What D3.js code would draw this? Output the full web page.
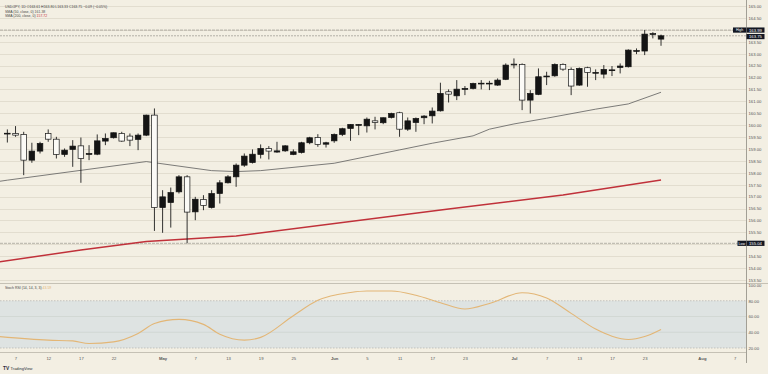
<!DOCTYPE html>
<html>
<head>
<meta charset="utf-8">
<script src="https://cdn.jsdelivr.net/npm/d3@7"></script>
<style>
  body { margin: 0; background: #f3efe3; }
  svg { display: block; font-family: "Liberation Sans", Arial, sans-serif; }
</style>
</head>
<body>
<div id="chart"></div>
<script>
// daily bars
const opens  = [159.64,159.65,159.61,158.53,158.91,159.65,159.41,158.77,158.98,159.13,
                158.77,158.78,159.33,159.47,159.65,159.54,159.40,159.58,160.42,156.54,
                156.75,157.20,157.83,156.36,156.88,156.54,157.13,157.58,157.83,158.32,
                158.43,158.77,159.02,158.87,158.92,158.77,158.85,159.26,159.48,159.20,
                159.34,159.61,159.86,159.99,159.97,160.18,160.10,160.32,160.52,159.83,
                160.11,160.31,160.39,160.60,161.40,161.23,161.50,161.54,161.75,161.75,
                161.68,161.92,162.56,162.55,161.05,161.29,162.05,162.07,162.55,162.34,
                161.68,162.41,162.20,162.14,162.31,162.42,162.45,163.12,163.11,163.82,
                163.61];
const highs  = [159.82,159.96,159.72,159.26,159.30,159.82,159.51,159.02,159.37,159.48,
                159.16,159.61,159.65,159.69,159.72,159.65,159.65,160.44,160.70,157.27,
                157.38,157.90,157.90,156.99,157.06,157.27,157.69,157.90,158.39,158.81,
                158.98,159.19,159.12,159.30,159.16,158.98,159.30,159.51,159.62,159.30,
                159.65,159.89,160.04,160.04,160.32,160.35,160.32,160.52,160.56,160.32,
                160.32,160.42,160.74,161.78,161.50,161.89,161.64,161.78,161.89,161.86,
                161.96,162.59,162.80,162.59,161.47,162.38,162.24,162.59,162.59,162.42,
                162.42,162.45,162.34,162.52,162.48,162.59,163.18,163.22,163.99,163.90,
                163.80];
const lows   = [159.27,159.51,157.90,158.42,158.81,159.30,158.60,158.67,158.25,157.58,
                158.53,158.74,159.16,159.44,159.30,159.12,158.95,159.54,155.56,155.48,
                155.70,157.13,155.04,156.01,156.43,156.50,156.71,157.55,157.41,158.25,
                158.39,158.60,158.56,158.84,158.88,158.74,158.81,159.20,159.09,159.06,
                159.26,159.54,159.34,159.58,159.69,159.82,160.04,160.28,159.51,159.76,
                159.72,160.04,160.07,160.57,160.95,161.05,161.26,161.50,161.50,161.47,
                161.65,161.89,162.38,160.63,160.49,161.26,161.68,162.03,162.28,161.26,
                161.65,161.61,161.89,161.96,162.06,162.17,162.42,162.98,162.94,163.64,
                163.33];
const closes = [159.66,159.58,158.53,158.91,159.23,159.41,158.77,158.95,159.12,158.60,
                158.81,159.34,159.44,159.68,159.33,159.37,159.58,160.42,156.54,156.99,
                157.17,157.83,156.35,156.89,156.63,157.13,157.58,157.83,158.32,158.70,
                158.78,159.02,158.91,158.92,159.13,158.88,159.26,159.47,159.19,159.26,
                159.61,159.85,160.03,160.03,160.25,160.11,160.31,160.49,159.83,160.18,
                160.28,160.38,160.59,161.33,161.30,161.51,161.54,161.75,161.76,161.76,
                161.89,162.52,162.53,161.05,161.33,162.03,162.06,162.55,162.35,161.64,
                162.38,162.21,162.21,162.34,162.32,162.48,163.15,163.13,163.82,163.84,
                163.75];

// moving averages, [bar, value] vertices
const sma50  = [[-1,157.64],[0,157.69],[17,158.47],[25,158.09],[28,158.05],[31,158.09],
                [40,158.40],[48,158.96],[52,159.24],[57,159.55],[59,159.83],[62,160.05],
                [66,160.29],[72,160.67],[76,160.89],[80,161.38]];
const sma200 = [[-1,154.26],[9,154.76],[17,155.12],[28,155.35],[54,156.48],[68,157.07],[80,157.70]];

// stoch rsi %K
const stochK = [[-1,34.5],[5,30],[8,29],[10,25.7],[13,27.8],[16,38.5],[18,51],[21,56.3],
                [24,50],[26,37.5],[29,30],[31,33.5],[35,61],[38,80.5],[42,90.5],[44,92.4],
                [47,92.4],[50,87],[53,77.5],[56,69.5],[59,76.6],[63,90.2],[66,83.5],
                [69,64],[72,44],[74,35],[76,30.8],[78,34.5],[80,43.6]];

const timeTickBars   = [1,5,9,13,19,23,27,31,35,40,44,48,52,56,62,66,70,74,78,85,89];
const timeTickLabels = ["7","12","17","22","May","7","13","19","25","Jun","5","11","17","23",
                        "Jul","7","13","17","23","Aug","7"];
const monthLabels = ["May","Jun","Jul","Aug"];

const priceTicks = d3.range(153.5, 165.01, 0.5);
const stochTicks = [100, 80, 60, 40, 20];

const highValue = 163.99, lowValue = 155.04, lastValue = 163.75;

class CandleChart {
    constructor(_config) {
        this.config = {
            parentElement: _config.parentElement,
            containerWidth: 768,
            containerHeight: 374,
            plotRight: 746,
            mainTop: 6, mainBottom: 280, paneSplit: 283,
            stochTop: 285, stochBottom: 352
        };
        this.initVis();
    }

    initVis() {
        let vis = this;
        const c = vis.config;

        vis.svg = c.parentElement.append('svg')
            .attr('width', c.containerWidth)
            .attr('height', c.containerHeight);

        vis.svg.append('rect')
            .attr('width', c.containerWidth).attr('height', c.containerHeight)
            .attr('fill', '#f3efe3');

        vis.x = d3.scaleLinear().domain([-0.9, 90.4]).range([0, c.plotRight]);
        vis.y = d3.scaleLinear().domain([153.5, 165]).range([c.mainBottom, c.mainTop]);
        vis.ys = d3.scaleLinear().domain([0, 100]).range([363.75, 285]);

        const defs = vis.svg.append('defs');
        defs.append('clipPath').attr('id', 'clip-main').append('rect')
            .attr('x', 0).attr('y', 0).attr('width', c.plotRight).attr('height', c.paneSplit);
        defs.append('clipPath').attr('id', 'clip-stoch').append('rect')
            .attr('x', 0).attr('y', c.paneSplit + 1).attr('width', c.plotRight)
            .attr('height', c.stochBottom - c.paneSplit - 1);

        vis.renderVis();
    }

    renderVis() {
        let vis = this;
        const c = vis.config;
        const x = vis.x, y = vis.y, ys = vis.ys;
        const axisFont = 4.2;

        // ---- main pane grid
        vis.svg.append('g').selectAll('line')
            .data(priceTicks).enter().append('line')
            .attr('x1', 0).attr('x2', c.plotRight)
            .attr('y1', d => Math.round(y(d)) + 0.5).attr('y2', d => Math.round(y(d)) + 0.5)
            .attr('stroke', '#ddd8ca').attr('stroke-width', 0.8);

        const main = vis.svg.append('g').attr('clip-path', 'url(#clip-main)');

        // high / low / last lines
        main.selectAll('.hl')
            .data([highValue, lastValue, lowValue]).enter().append('line')
            .attr('class', 'hl')
            .attr('x1', 0).attr('x2', c.plotRight)
            .attr('y1', d => y(d)).attr('y2', d => y(d))
            .attr('stroke', '#8a877f').attr('stroke-width', 0.6)
            .attr('stroke-dasharray', (d, i) => i === 1 ? '2,1' : '3,1');

        const line = d3.line().x(d => x(d[0])).y(d => y(d[1]));
        main.append('path').datum(sma50)
            .attr('d', line).attr('fill', 'none')
            .attr('stroke', '#5d5d5d').attr('stroke-width', 0.8);
        main.append('path').datum(sma200)
            .attr('d', line).attr('fill', 'none')
            .attr('stroke', '#c0313a').attr('stroke-width', 1.5);

        // candles
        const bars = opens.map((o, i) => ({ i, o, h: highs[i], l: lows[i], c: closes[i] }));
        const bw = 5.6;
        main.selectAll('.wick')
            .data(bars).enter().append('line')
            .attr('class', 'wick')
            .attr('x1', d => x(d.i)).attr('x2', d => x(d.i))
            .attr('y1', d => y(d.h)).attr('y2', d => y(d.l))
            .attr('stroke', '#1c1c1c').attr('stroke-width', 0.9);
        main.selectAll('.body')
            .data(bars).enter().append('rect')
            .attr('class', 'body')
            .attr('x', d => x(d.i) - bw / 2)
            .attr('y', d => y(Math.max(d.o, d.c)))
            .attr('width', bw)
            .attr('height', d => Math.max(0.8, y(Math.min(d.o, d.c)) - y(Math.max(d.o, d.c))))
            .attr('fill', d => d.c >= d.o ? '#141414' : '#fbfaf6')
            .attr('stroke', '#141414').attr('stroke-width', 0.7);

        // ---- stoch pane
        const stoch = vis.svg.append('g').attr('clip-path', 'url(#clip-stoch)');
        stoch.append('rect')
            .attr('x', 0).attr('width', c.plotRight)
            .attr('y', ys(80)).attr('height', ys(20) - ys(80))
            .attr('fill', '#dee3e2');
        stoch.selectAll('.sgrid')
            .data([60, 40]).enter().append('line')
            .attr('x1', 0).attr('x2', c.plotRight)
            .attr('y1', d => ys(d)).attr('y2', d => ys(d))
            .attr('stroke', '#cdd2cf').attr('stroke-width', 0.7);
        stoch.selectAll('.band')
            .data([80, 20]).enter().append('line')
            .attr('x1', 0).attr('x2', c.plotRight)
            .attr('y1', d => ys(d)).attr('y2', d => ys(d))
            .attr('stroke', '#a9aaa6').attr('stroke-width', 0.6)
            .attr('stroke-dasharray', '1.5,1.5');
        stoch.append('path').datum(stochK)
            .attr('d', d3.line().x(d => x(d[0])).y(d => ys(d[1])).curve(d3.curveMonotoneX))
            .attr('fill', 'none')
            .attr('stroke', '#e3b676').attr('stroke-width', 1.1);

        // pane separators and axis frame
        vis.svg.append('line')
            .attr('x1', 0).attr('x2', c.containerWidth)
            .attr('y1', c.paneSplit + 0.5).attr('y2', c.paneSplit + 0.5)
            .attr('stroke', '#b9b5aa').attr('stroke-width', 0.8);
        vis.svg.append('line')
            .attr('x1', 0).attr('x2', c.plotRight)
            .attr('y1', c.stochBottom + 0.5).attr('y2', c.stochBottom + 0.5)
            .attr('stroke', '#b9b5aa').attr('stroke-width', 0.8);
        vis.svg.append('line')
            .attr('x1', c.plotRight + 0.5).attr('x2', c.plotRight + 0.5)
            .attr('y1', 0).attr('y2', 363)
            .attr('stroke', '#8d8a82').attr('stroke-width', 0.8);

        // ---- axes
        const styleText = g => g.selectAll('text').attr('font-size', axisFont).attr('fill', '#555')
            .attr('font-family', '"Liberation Sans", Arial, sans-serif');

        const priceAxis = d3.axisRight(y)
            .tickValues(priceTicks.filter(d => Math.abs(d - 164) > 0.01 && Math.abs(d - 155) > 0.01))
            .tickFormat(d3.format('.2f')).tickSize(0).tickPadding(2.5);
        vis.svg.append('g')
            .attr('transform', `translate(${c.plotRight},0)`)
            .call(priceAxis)
            .call(g => g.select('.domain').remove())
            .call(styleText);

        const stochAxis = d3.axisRight(ys)
            .tickValues(stochTicks)
            .tickFormat(d3.format('.2f')).tickSize(0).tickPadding(2.5);
        vis.svg.append('g')
            .attr('transform', `translate(${c.plotRight},0)`)
            .call(stochAxis)
            .call(g => g.select('.domain').remove())
            .call(styleText);

        const timeAxis = d3.axisBottom(x)
            .tickValues(timeTickBars)
            .tickFormat((d, i) => timeTickLabels[i])
            .tickSize(0).tickPadding(5);
        vis.svg.append('g')
            .attr('transform', `translate(0,${c.stochBottom})`)
            .call(timeAxis)
            .call(g => g.select('.domain').remove())
            .call(styleText)
            .call(g => g.selectAll('text')
                .attr('font-weight', d => monthLabels.includes(timeTickLabels[timeTickBars.indexOf(d)]) ? 'bold' : null));

        // ---- price tags on the right axis
        const tag = (label, value, dy) => {
            const yy = y(value) + (dy || 0);
            if (label) {
                const lw = label === 'High' ? 13 : 8.5;
                vis.svg.append('rect')
                    .attr('x', c.plotRight - lw).attr('y', yy - 2.6).attr('width', lw).attr('height', 5.2)
                    .attr('fill', '#131722');
                vis.svg.append('text')
                    .attr('x', c.plotRight - lw / 2).attr('y', yy + 1.3)
                    .attr('text-anchor', 'middle').attr('font-size', 3.5).attr('fill', '#fff')
                    .text(label);
            }
            vis.svg.append('rect')
                .attr('x', c.plotRight + 0.5).attr('y', yy - 2.6).attr('width', 18).attr('height', 5.2)
                .attr('fill', '#131722');
            vis.svg.append('text')
                .attr('x', c.plotRight + 3).attr('y', yy + 1.5)
                .attr('font-size', axisFont).attr('fill', '#fff')
                .text(d3.format('.2f')(value));
        };
        tag('High', highValue, 0);
        tag(null, lastValue, 0.8);
        tag('Low', lowValue, 0);

        // ---- legends
        const legend = vis.svg.append('g').attr('font-size', 3.5).attr('fill', '#444');
        legend.append('text').attr('x', 5).attr('y', 8.3)
            .text('USD/JPY, 1D  O163.61  H163.80  L163.33  C163.75  −0.09 (−0.05%)');
        const l2 = legend.append('text').attr('x', 5).attr('y', 12.8);
        l2.append('tspan').text('SMA (50, close, 0)  ');
        l2.append('tspan').attr('fill', '#555').text('161.38');
        const l3 = legend.append('text').attr('x', 5).attr('y', 17.3);
        l3.append('tspan').text('SMA (200, close, 0)  ');
        l3.append('tspan').attr('fill', '#c0313a').text('157.72');

        const sl = legend.append('text').attr('x', 5).attr('y', 288.6);
        sl.append('tspan').text('Stoch RSI (14, 14, 3, 3)  ');
        sl.append('tspan').attr('fill', '#e3b676').text('43.59');

        // ---- logo
        const logo = vis.svg.append('g').attr('fill', '#2a2e39');
        logo.append('text').attr('x', 3).attr('y', 370.3)
            .attr('font-size', 4.8).attr('font-weight', 'bold').text('TV');
        logo.append('text').attr('x', 10.5).attr('y', 370.3)
            .attr('font-size', 4).text('TradingView');
    }
}

new CandleChart({ parentElement: d3.select('#chart') });
</script>
</body>
</html>
